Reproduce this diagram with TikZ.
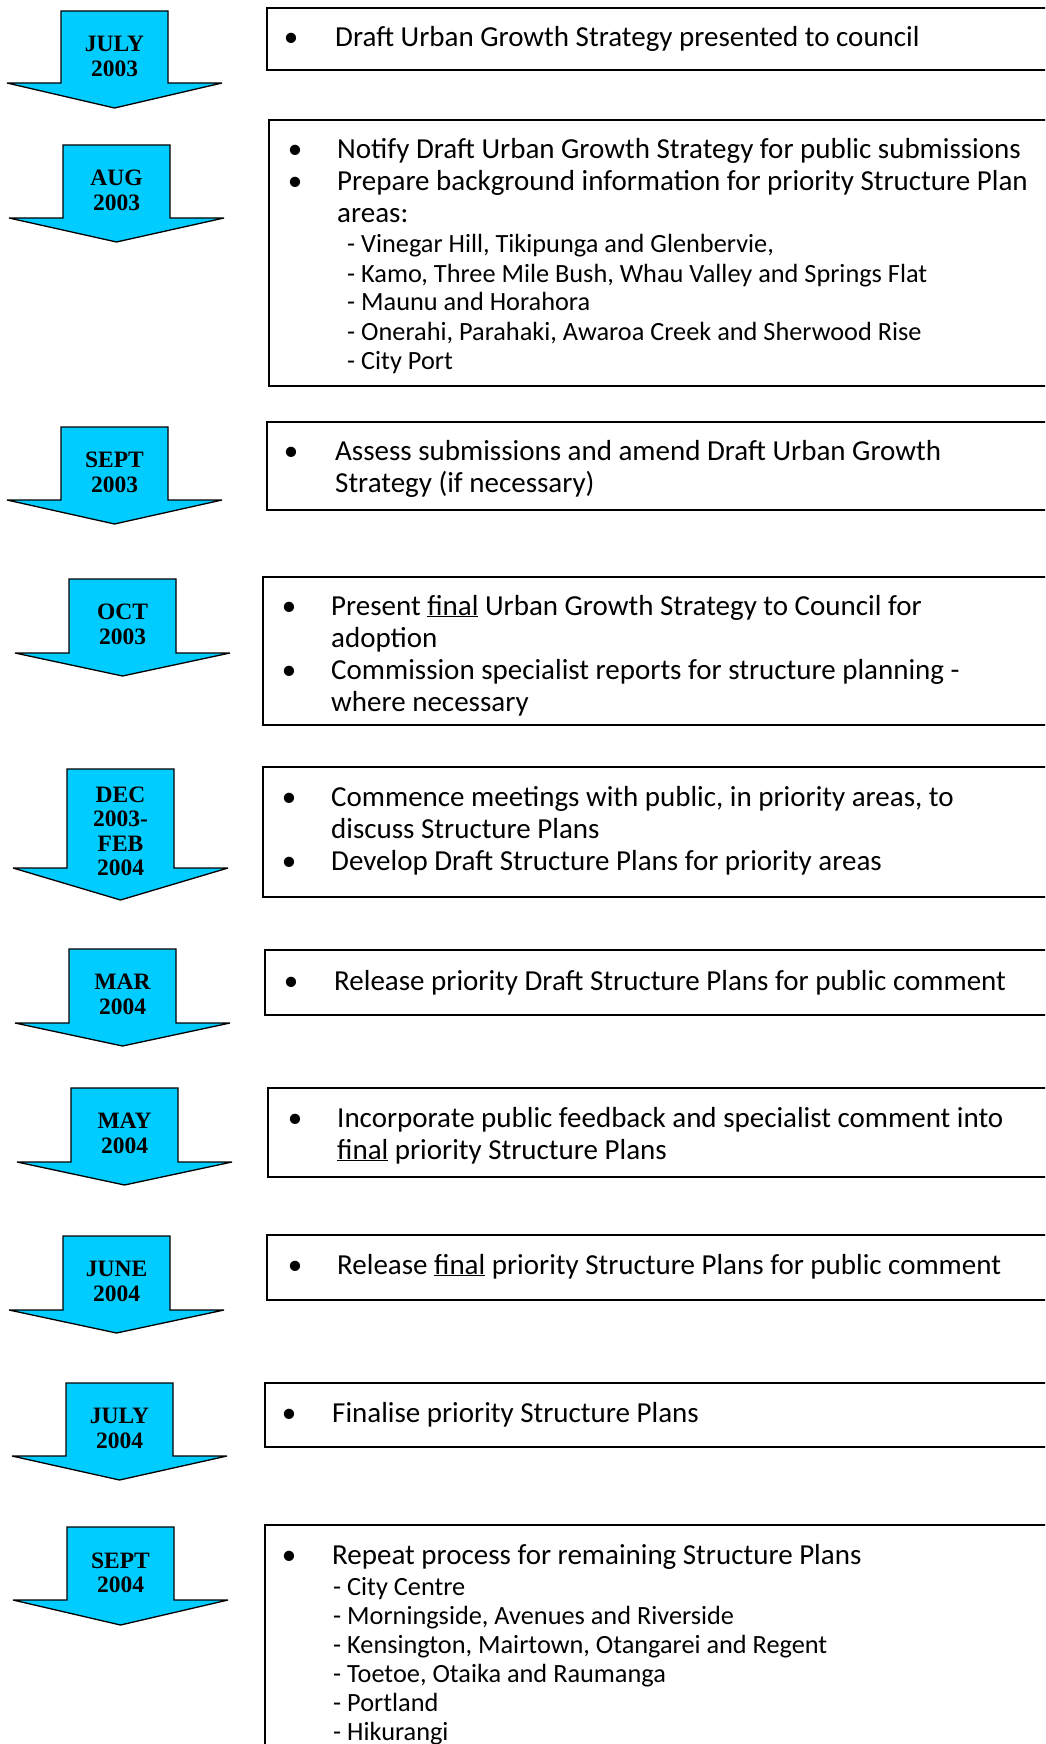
\documentclass[tikz,border=0pt]{standalone}
\usepackage{fontspec}
\setmainfont{Carlito}
\newfontfamily\datefont{Liberation Serif}

\definecolor{arrowcyan}{RGB}{0,204,255}
\newcommand{\boxlines}[1]{\parbox[t]{700pt}{\raggedright #1}}

\tikzset{
  panel/.style={draw, line width=1.6pt},
  datearrow/.style={draw, line width=1.3pt, fill=arrowcyan, line join=miter, miter limit=1.5},
  datelabel/.style={font=\datefont\bfseries\fontsize{23.5}{24.5}\selectfont, align=center, inner sep=0pt},
  bulletdot/.style={anchor=base, inner sep=0pt, font=\fontsize{29}{32}\selectfont},
  itemtext/.style={anchor=base west, inner sep=0pt, font=\fontsize{29}{32}\selectfont},
  subtext/.style={anchor=base west, inner sep=0pt, font=\fontsize{26.3}{29}\selectfont},
}

\begin{document}
\begin{tikzpicture}[x=1pt, y=-1pt]
  \useasboundingbox (0,0) rectangle (1045,1744);
  \clip (0,0) rectangle (1045,1744);

  % date arrows: shaft left / top / shaft height / head depth / label
  \foreach \xs/\t/\h/\d/\lbl [count=\i] in {
      61/11/72/25/{JULY\\2003},
      63/145/73/24/{AUG\\2003},
      61/427/73/24/{SEPT\\2003},
      69/579/74/23/{OCT\\2003},
      67/769/99/32/{DEC\\2003-\\FEB\\2004},
      69/949/74/23/{MAR\\2004},
      71/1088/74/23/{MAY\\2004},
      63/1236/74/23/{JUNE\\2004},
      66/1383/73/24/{JULY\\2004},
      67/1527/73/25/{SEPT\\2004}} {
    \draw[datearrow] (\xs,\t) -- ({\xs+107},\t) -- ({\xs+107},{\t+\h})
      -- ({\xs+161},{\t+\h}) -- ({\xs+53.5},{\t+\h+\d})
      -- ({\xs-54},{\t+\h}) -- (\xs,{\t+\h}) -- cycle;
    \node[datelabel] (date\i) at ({\xs+53.5},{\t+(\h+\d)/2-3}) {\lbl};
  }

  % boxes
  \draw[panel] (267,8) rectangle (1060,70);
  \node[bulletdot] (b1) at (291,47) {\textbullet};
  \node[itemtext] (t1) at (335,47) {\boxlines{Draft Urban Growth Strategy presented to council}};

  \draw[panel] (269,120) rectangle (1060,386);
  \node[bulletdot] (b2a) at (295,159) {\textbullet};
  \node[bulletdot] (b2b) at (295,191) {\textbullet};
  \node[itemtext] (t2) at (337,159) {\boxlines{Notify Draft Urban Growth Strategy for public submissions\\
    Prepare background information for priority Structure Plan\\areas:}};
  \node[subtext] (s2) at (347,253) {\boxlines{- Vinegar Hill, Tikipunga and Glenbervie,\\
    - Kamo, Three Mile Bush, Whau Valley and Springs Flat\\
    - Maunu and Horahora\\
    - Onerahi, Parahaki, Awaroa Creek and Sherwood Rise\\
    - City Port}};

  \draw[panel] (267,422) rectangle (1060,510);
  \node[bulletdot] (b3) at (291,460) {\textbullet};
  \node[itemtext] (t3) at (335,460) {\boxlines{Assess submissions and amend Draft Urban Growth\\
    Strategy (if necessary)}};

  \draw[panel] (263,577) rectangle (1060,725);
  \node[bulletdot] (b4a) at (289,615) {\textbullet};
  \node[bulletdot] (b4b) at (289,679) {\textbullet};
  \node[itemtext] (t4) at (331,615) {\boxlines{Present \underline{final} Urban Growth Strategy to Council for\\
    adoption\\
    Commission specialist reports for structure planning -\\
    where necessary}};

  \draw[panel] (263,767) rectangle (1060,897);
  \node[bulletdot] (b5a) at (289,806) {\textbullet};
  \node[bulletdot] (b5b) at (289,870) {\textbullet};
  \node[itemtext] (t5) at (331,806) {\boxlines{Commence meetings with public, in priority areas, to\\
    discuss Structure Plans\\
    Develop Draft Structure Plans for priority areas}};

  \draw[panel] (265,950) rectangle (1060,1015);
  \node[bulletdot] (b6) at (291,990) {\textbullet};
  \node[itemtext] (t6) at (334,990) {\boxlines{Release priority Draft Structure Plans for public comment}};

  \draw[panel] (268,1088) rectangle (1060,1177);
  \node[bulletdot] (b7) at (295,1127) {\textbullet};
  \node[itemtext] (t7) at (337,1127) {\boxlines{Incorporate public feedback and specialist comment into\\
    \underline{final} priority Structure Plans}};

  \draw[panel] (267,1235) rectangle (1060,1300);
  \node[bulletdot] (b8) at (295,1274) {\textbullet};
  \node[itemtext] (t8) at (337,1274) {\boxlines{Release \underline{final} priority Structure Plans for public comment}};

  \draw[panel] (265,1383) rectangle (1060,1447);
  \node[bulletdot] (b9) at (289,1422) {\textbullet};
  \node[itemtext] (t9) at (332,1422) {\boxlines{Finalise priority Structure Plans}};

  \draw[panel] (265,1525) rectangle (1060,1760);
  \node[bulletdot] (b10) at (289,1564) {\textbullet};
  \node[itemtext] (t10) at (332,1564) {\boxlines{Repeat process for remaining Structure Plans}};
  \node[subtext] (s10) at (333,1595) {\boxlines{- City Centre\\
    - Morningside, Avenues and Riverside\\
    - Kensington, Mairtown, Otangarei and Regent\\
    - Toetoe, Otaika and Raumanga\\
    - Portland\\
    - Hikurangi}};
\end{tikzpicture}
\end{document}
